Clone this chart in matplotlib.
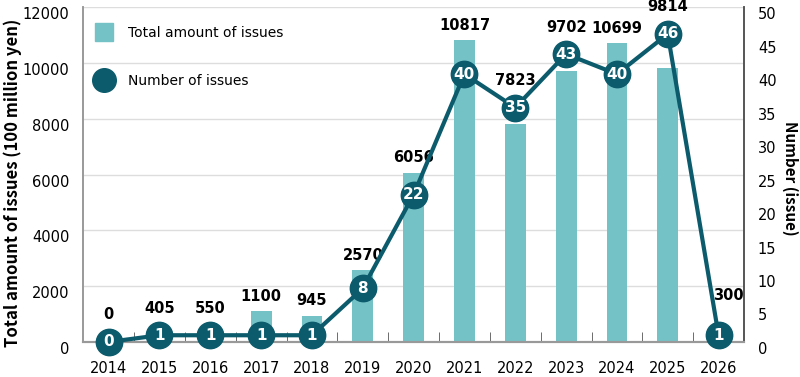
import numpy as np
import matplotlib.pyplot as plt
import matplotlib.transforms as mtransforms
from matplotlib.lines import Line2D

plt.rcParams['font.family'] = ['DejaVu Sans']

# datos
years = ['2014', '2015', '2016', '2017', '2018', '2019', '2020',
         '2021', '2022', '2023', '2024', '2025', '2026']
amount = [0, 405, 550, 1100, 945, 2570, 6056, 10817, 7823, 9702, 10699, 9814, 300]
count = [0, 1, 1, 1, 1, 8, 22, 40, 35, 43, 40, 46, 1]

bar_color = '#74c2c6'
line_color = '#0b5b6c'

fig = plt.figure(figsize=(8, 3.77), dpi=100)
ax = fig.add_axes([0.104, 0.093, 0.826, 0.888])
ax2 = ax.twinx()

x = np.arange(len(years))
ax.bar(x, amount, width=0.41, color=bar_color, zorder=2)

ax.set_ylim(0, 12000)
ax.set_yticks(np.arange(0, 12001, 2000))
ax.set_xlim(-0.5, len(years) - 0.5)
ax.set_xticks(x)
ax.set_xticklabels(years, fontsize=10.5)
ax.set_xticks(x[:-1] + 0.5, minor=True)
ax.tick_params(axis='x', which='major', length=0, pad=14)
ax.tick_params(axis='x', which='minor', direction='in', length=7, color='#555555')
ax.tick_params(axis='y', length=0, labelsize=10.5, pad=10)
ax.grid(axis='y', color='#dddddd', linewidth=1, zorder=0)
ax.set_ylabel('Total amount of issues (100 million yen)', fontsize=12,
              fontweight='bold', family='Noto Sans CJK JP',
              va='center', ha='center')
ax.yaxis.set_label_coords(-0.107, 0.475)

ax2.set_ylim(0, 50)
ax2.set_yticks(np.arange(0, 51, 5))
ax2.tick_params(axis='y', length=0, labelsize=10.5, pad=10)
ax2.set_ylabel('Number (issue)', fontsize=11, fontweight='bold',
               rotation=270, family='Noto Sans CJK JP', va='center', ha='center')
ax2.yaxis.set_label_coords(1.0696, 0.49)

# etiquetas del eje y un poco mas abajo
shift = mtransforms.ScaledTranslation(0, -0.06, fig.dpi_scale_trans)
for t in ax.get_yticklabels() + ax2.get_yticklabels():
    t.set_transform(t.get_transform() + shift)

for a in (ax, ax2):
    a.spines['top'].set_visible(False)
    a.spines['left'].set_color('#999999')
    a.spines['right'].set_color('#555555')
    a.spines['bottom'].set_color('#999999')
    a.spines['left'].set_linewidth(1.2)
    a.spines['right'].set_linewidth(1.2)
    a.spines['bottom'].set_linewidth(1.5)

# linea con circulos
ax2.plot(x, count, color=line_color, linewidth=3, marker='o', markersize=19,
         zorder=3, clip_on=False)
for xi, c in zip(x, count):
    ax2.text(xi, c, str(c), color='white', fontsize=11, fontweight='bold',
             ha='center', va='center', zorder=4)

# etiquetas de monto
last = len(years) - 1
for xi, a_val, c in zip(x, amount, count):
    bar_px = ax.transData.transform((xi, a_val))[1]
    mk_px = ax2.transData.transform((xi, c))[1]
    top = max(bar_px + 15, mk_px + 27)
    xt = xi
    if xi == last:
        top = mk_px + 40
        xt = xi + 0.2
    yt = ax.transData.inverted().transform((0, top))[1]
    ax.text(xt, yt, str(a_val), ha='center', va='center', fontsize=10.5,
            fontweight='bold', zorder=5, clip_on=False)

handles = [Line2D([], [], marker='s', linestyle='none', color=bar_color, markersize=13),
           Line2D([], [], marker='o', linestyle='none', color=line_color, markersize=17)]
ax.legend(handles, ['Total amount of issues', 'Number of issues'],
          loc='upper left', bbox_to_anchor=(-0.015, 0.995), frameon=False,
          fontsize=10, labelspacing=2.5, handletextpad=0.75, borderpad=0.7)

fig.savefig('out.png', dpi=100)
